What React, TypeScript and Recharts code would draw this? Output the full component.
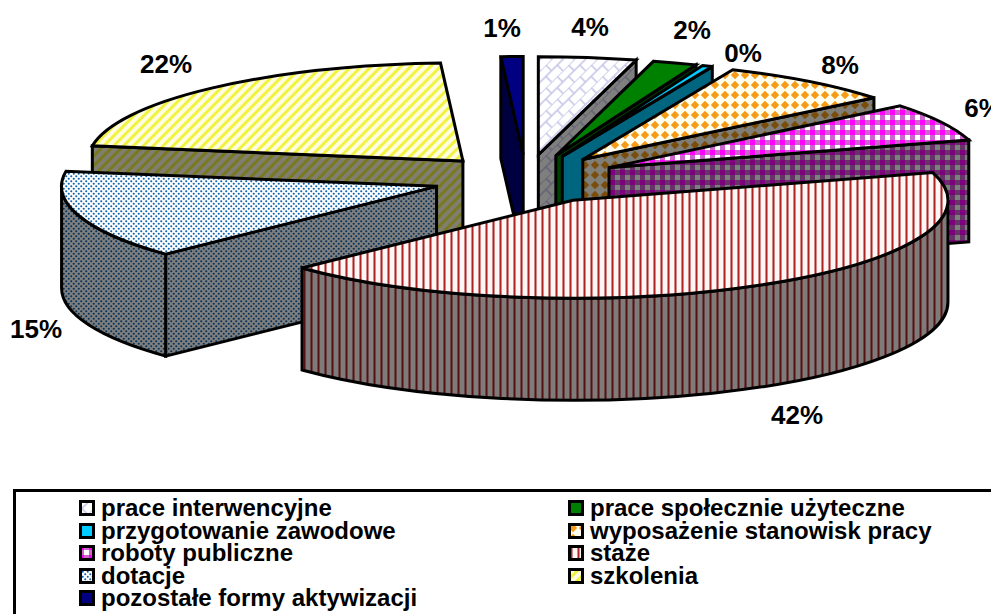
import React from 'react';
import { PieChart, Pie, Legend } from 'recharts';

const CATEGORIES = [
  'prace interwencyjne',
  'prace społecznie użyteczne',
  'przygotowanie zawodowe',
  'wyposażenie stanowisk pracy',
  'roboty publiczne',
  'staże',
  'dotacje',
  'szkolenia',
  'pozostałe formy aktywizacji',
];
const VALUES = [4.2, 1.9, 0.45, 7.6, 6.3, 42.4, 14.6, 21.6, 0.95];
const FILLS = ['url(#brick)', '#008000', '#00ccff', 'url(#diamond)', 'url(#plaid)', 'url(#stripe)', 'url(#dots)', 'url(#yellow)', '#000080'];

// back to front, the exploded slices overlap each other
const DRAW_ORDER = [8, 0, 1, 2, 3, 4, 7, 6, 5];

// label anchors are hand placed in the original too
const LABEL_X = [590, 692, 743, 840, 983, 797, 36, 166, 502];
const LABEL_Y = [27, 30, 53, 65, 108, 415, 329, 64, 28];

const PIE_DATA = CATEGORIES.map((name, i) => ({ name, value: VALUES[i], fill: FILLS[i] }));

const SQUASH = 98 / 375;
const DEPTH = 102;
const EXPLODE = 0.25;
const rad = (d: number) => (d * Math.PI) / 180;

const Slice = (props: any) => {
  const { cx, cy, outerRadius: rx, startAngle, endAngle, fill } = props;
  const ry = rx * SQUASH;
  // clockwise from 12 o'clock
  const t0 = 90 - startAngle;
  const t1 = 90 - endAngle;
  const mid = (t0 + t1) / 2;
  const ax = cx + EXPLODE * rx * Math.sin(rad(mid));
  const ay = cy - EXPLODE * ry * Math.cos(rad(mid));
  const rim = (t: number, d = 0) => `${ax + rx * Math.sin(rad(t))} ${ay - ry * Math.cos(rad(t)) + d}`;
  const faces: string[] = [];
  if (Math.sin(rad(t0)) < -0.001) {
    faces.push(`M${ax} ${ay}L${rim(t0)}L${rim(t0, DEPTH)}L${ax} ${ay + DEPTH}Z`);
  }
  if (Math.sin(rad(t1)) > 0.001) {
    faces.push(`M${ax} ${ay}L${rim(t1)}L${rim(t1, DEPTH)}L${ax} ${ay + DEPTH}Z`);
  }
  const b0 = Math.max(t0, 90);
  const b1 = Math.min(t1, 270);
  if (b1 > b0) {
    faces.push(
      `M${rim(b0)}A${rx} ${ry} 0 0 1 ${rim(b1)}L${rim(b1, DEPTH)}A${rx} ${ry} 0 0 0 ${rim(b0, DEPTH)}Z`,
    );
  }
  const top = `M${ax} ${ay}L${rim(t0)}A${rx} ${ry} 0 0 1 ${rim(t1)}Z`;
  return (
    <g strokeLinejoin="miter" strokeMiterlimit={3}>
      {faces.map((d, i) => (
        <g key={i}>
          <path d={d} fill={fill} />
          <path d={d} fill="#000" fillOpacity={0.5} stroke="#000" strokeWidth={3} />
        </g>
      ))}
      <path d={top} fill={fill} stroke="#000" strokeWidth={3} />
    </g>
  );
};

const renderLabel = (props: any) => {
  const i = CATEGORIES.indexOf(props.name);
  return (
    <text
      key={props.name}
      x={LABEL_X[i]}
      y={LABEL_Y[i]}
      textAnchor="middle"
      dominantBaseline="central"
      fontFamily="'Liberation Sans', Arial, sans-serif"
      fontWeight="bold"
      fontSize={26}
      fill="#000"
    >
      {Math.round(props.percent * 100)}%
    </text>
  );
};

const LegendBox = ({ payload }: any) => {
  const seen = new Set<string>();
  const items = (payload || []).filter((p: any) => {
    if (seen.has(p.value)) return false;
    seen.add(p.value);
    return true;
  });
  return (
    <div
      style={{
        boxSizing: 'border-box',
        width: 1040,
        height: 160,
        border: '3px solid #000',
        padding: '5px 0 0 63px',
        display: 'grid',
        gridTemplateColumns: '489px 1fr',
        gridAutoRows: '22.5px',
        fontFamily: "'Liberation Sans', Arial, sans-serif",
        fontWeight: 'bold',
        fontSize: 24,
        lineHeight: '22.5px',
        color: '#000',
      }}
    >
      {items.map((p: any) => (
        <div key={p.value} style={{ display: 'flex', alignItems: 'center', whiteSpace: 'nowrap' }}>
          <svg width={16} height={16} style={{ marginRight: 6, flex: 'none' }}>
            <rect x={1.5} y={1.5} width={13} height={13} fill={FILLS[CATEGORIES.indexOf(p.value)]} stroke="#000" strokeWidth={3} />
          </svg>
          {p.value}
        </div>
      ))}
    </div>
  );
};

export default function App() {
  return (
    <div style={{ position: 'absolute', left: 0, top: 0, width: 991, height: 614, overflow: 'hidden', background: '#fff' }}>
      <PieChart width={991} height={614} margin={{ top: 0, right: 0, bottom: 0, left: 0 }}>
        <defs>
          <pattern id="brick" width={16} height={16} patternUnits="userSpaceOnUse" patternTransform="rotate(-45)">
            <rect width={16} height={16} fill="#fff" />
            <path d="M0 0H16M0 8H16M4 0V8M12 8V16" stroke="#c4c4e8" strokeWidth={1.5} fill="none" />
          </pattern>
          <pattern id="diamond" width={10} height={10} patternUnits="userSpaceOnUse">
            <rect width={10} height={10} fill="#fffff0" />
            <path d="M5 0.8L9.2 5L5 9.2L0.8 5Z" fill="#f79a16" />
          </pattern>
          <pattern id="plaid" width={10} height={10} patternUnits="userSpaceOnUse">
            <rect width={10} height={10} fill="#cc66cc" />
            <rect width={5} height={5} fill="#ff00ff" />
            <rect x={5} y={5} width={5} height={5} fill="#fff" />
          </pattern>
          <pattern id="stripe" width={7} height={7} patternUnits="userSpaceOnUse">
            <rect width={7} height={7} fill="#fff6f6" />
            <rect x={2} width={3} height={7} fill="#d48888" />
            <rect x={3} width={1} height={7} fill="#aa2222" />
          </pattern>
          <pattern id="dots" width={5} height={5} patternUnits="userSpaceOnUse">
            <rect width={5} height={5} fill="#fff" />
            <circle cx={1.25} cy={1.25} r={1.05} fill="#0f62ad" />
            <circle cx={3.75} cy={3.75} r={1.05} fill="#0f62ad" />
          </pattern>
          <pattern id="yellow" width={7} height={7} patternUnits="userSpaceOnUse" patternTransform="rotate(45)">
            <rect width={7} height={7} fill="#fffde0" />
            <rect width={3} height={7} fill="#f2f240" />
          </pattern>
        </defs>
        {DRAW_ORDER.map((idx, n) => (
          <Pie
            key={idx}
            data={PIE_DATA}
            dataKey="value"
            nameKey="name"
            cx={526}
            cy={179}
            outerRadius={375}
            startAngle={90}
            endAngle={-270}
            isAnimationActive={false}
            labelLine={false}
            label={n === DRAW_ORDER.length - 1 ? renderLabel : false}
            shape={(p: any) => (p.name === CATEGORIES[idx] ? <Slice {...p} /> : <g />)}
          />
        ))}
        <Legend
          content={<LegendBox />}
          itemSorter={null}
          wrapperStyle={{ left: 13, top: 489, width: 1040, bottom: 'auto' }}
        />
      </PieChart>
    </div>
  );
}
